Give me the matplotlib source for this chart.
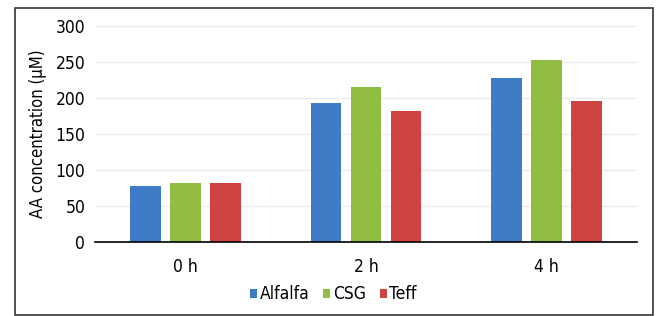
import numpy as np
import matplotlib
matplotlib.use('Agg')
from matplotlib import pyplot as plt
import matplotlib.patches as patches

plt.rcParams['font.family'] = ['Liberation Sans Narrow', 'DejaVu Sans']
plt.rcParams['font.stretch'] = 'condensed'

times = ['0 h', '2 h', '4 h']
alfalfa = [78, 192, 227]
csg = [81, 215, 252]
teff = [81, 182, 196]
series = ['Alfalfa', 'CSG', 'Teff']
colors = ['#3f7cc8', '#92bd43', '#cf4343']

fig = plt.figure(figsize=(6.6, 3.16), dpi=100)
ax = fig.add_axes([0.144, 0.235, 0.821, 0.684])

x = np.arange(len(times))
w = 0.17
step = 0.222
for i, (vals, name, c) in enumerate(zip([alfalfa, csg, teff], series, colors)):
    ax.bar(x + (i - 1) * step, vals, w, color=c, label=name, zorder=2)

ax.set_xlim(-0.5, 2.5)
ax.set_ylim(0, 300)
ax.set_yticks(range(0, 301, 50))
ax.set_xticks(x)
ax.set_xticklabels(times)
ax.tick_params(axis='y', length=0, labelsize=12.5, pad=7)
ax.tick_params(axis='x', length=0, labelsize=12.5, pad=12)
ax.grid(axis='y', color='#ebebeb', linewidth=1, zorder=0)
for s in ['top', 'right', 'left']:
    ax.spines[s].set_visible(False)
ax.spines['bottom'].set_color('black')
ax.spines['bottom'].set_linewidth(1.2)
ax.set_ylabel('AA concentration (µM)', fontsize=12, labelpad=6)

ax.legend(loc='upper center', bbox_to_anchor=(0.44, -0.13), ncol=3, frameon=False,
          fontsize=12.5, handlelength=0.4, handleheight=0.4, handletextpad=0.15,
          columnspacing=0.8)

# outer frame
fig.patches.append(patches.Rectangle((15 / 660, 1 - 315 / 316), 638 / 660, 307 / 316,
                                     transform=fig.transFigure, fill=False,
                                     edgecolor='#333333', linewidth=1.2))

plt.savefig('out.png', dpi=100)
